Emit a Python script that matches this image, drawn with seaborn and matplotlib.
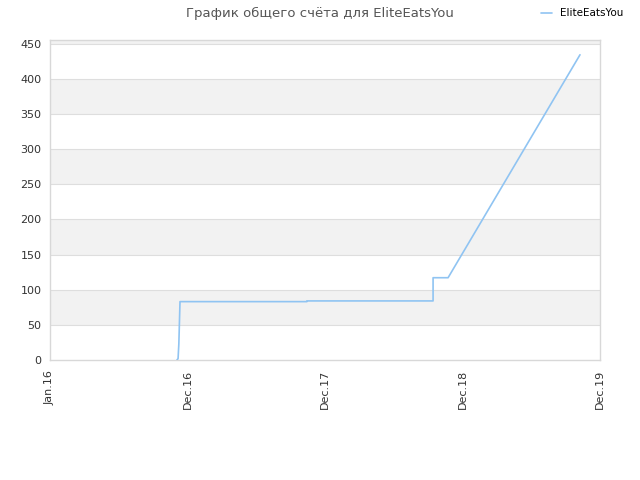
import matplotlib
matplotlib.use('Agg')
import matplotlib.pyplot as plt
import seaborn as sns
import pandas as pd
import numpy as np

# jours depuis le 1er janvier 2016 et score total
jours = [330, 333, 333, 335, 335, 338, 668, 668, 996, 996, 1035, 1378]
score = [0, 2, 2, 23, 23, 83, 83, 84, 84, 117, 117, 434]
joueur = 'EliteEatsYou'

tick_labels = ['Jan.16', 'Dec.16', 'Dec.17', 'Dec.18', 'Dec.19']
x_max = 1430
y_max = 455

donnees = pd.DataFrame({'jour': jours, 'score': score, 'joueur': joueur})

sns.set_style('white')
plt.rcParams['font.family'] = ['DejaVu Sans']

fig = plt.figure(figsize=(6.4, 4.8), dpi=100)
ax = fig.add_axes([50 / 640, 120 / 480, 550 / 640, 320 / 480])

# bandes alternées
for bas in range(0, 500, 100):
    ax.axhspan(bas + 50, bas + 100, color='#f2f2f2', zorder=0, lw=0)
for y in range(50, 451, 50):
    ax.axhline(y, color='#dedede', lw=0.8, zorder=1)

sns.lineplot(data=donnees, x='jour', y='score', hue='joueur', palette=['#90c4f2'],
             sort=False, estimator=None, lw=1.2, ax=ax, zorder=3)

ax.set_xlim(0, x_max)
ax.set_ylim(0, y_max)
ax.set_xticks(np.linspace(0, x_max, len(tick_labels)))
ax.set_xticklabels(tick_labels, rotation=90, fontsize=8, color='#333333')
ax.set_yticks(range(0, 451, 50))
ax.tick_params(axis='y', labelsize=8, colors='#333333', length=0, pad=6)
ax.tick_params(axis='x', length=0, pad=7)
ax.set_xlabel('')
ax.set_ylabel('')
for s in ax.spines.values():
    s.set_color('#d8d8d8')
    s.set_linewidth(1)

fig.suptitle('График общего счёта для EliteEatsYou', x=0.5, y=0.985,
             fontsize=9.5, color='#555555')
leg = ax.legend(loc='upper right', bbox_to_anchor=(1.06, 1.128), frameon=False,
                fontsize=7.5, handlelength=1.0, handletextpad=0.8)
for t in leg.get_texts():
    t.set_color('#000000')

fig.savefig('out.png', dpi=100)
